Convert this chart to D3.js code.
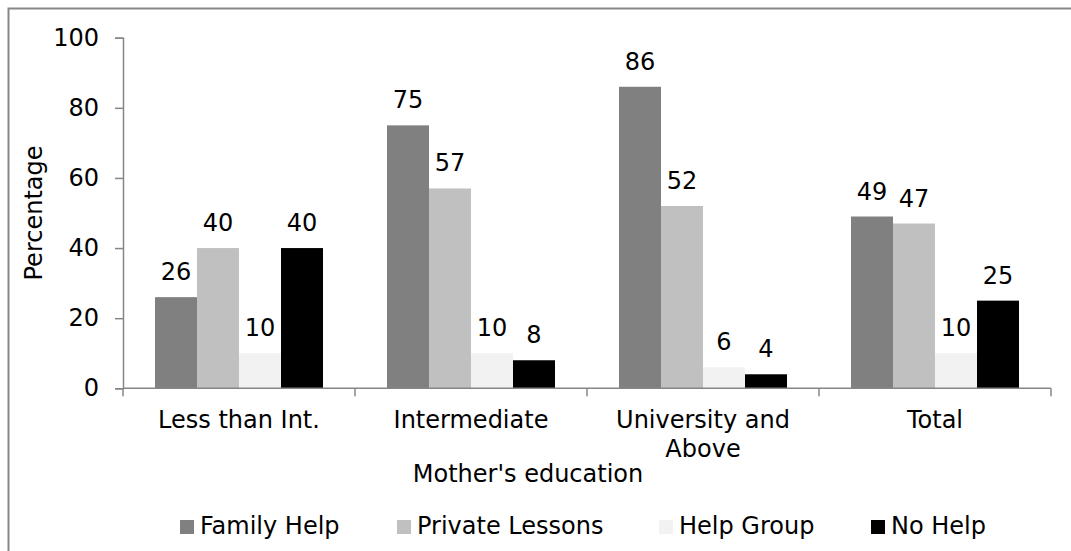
<!DOCTYPE html>
<html>
<head>
<meta charset="utf-8">
<script src="https://cdn.jsdelivr.net/npm/d3@7"></script>
<style>
  html, body { margin: 0; padding: 0; background: #fff; }
  svg { display: block; }
  text { font-family: "DejaVu Sans", Verdana, sans-serif; fill: #000; }
</style>
</head>
<body>
<svg id="chart" width="1071" height="551"></svg>
<script>
// Support type by mother's education level (percent of students)
const categories = [["Less than Int."], ["Intermediate"], ["University and", "Above"], ["Total"]];
const seriesNames = ["Family Help", "Private Lessons", "Help Group", "No Help"];
const seriesColors = ["#808080", "#C0C0C0", "#F2F2F2", "#000000"];
const familyHelp     = [26, 75, 86, 49];
const privateLessons = [40, 57, 52, 47];
const helpGroup      = [10, 10, 6, 10];
const noHelp         = [40, 8, 4, 25];
const yTicks = [0, 20, 40, 60, 80, 100];

const seriesValues = [familyHelp, privateLessons, helpGroup, noHelp];
const catKeys = categories.map(c => c.join(" "));

const svg = d3.select("#chart");
const FS = 24;

// outer chart frame
svg.append("rect")
  .attr("x", 8.5).attr("y", 8.5)
  .attr("width", 1120).attr("height", 620)
  .attr("fill", "none").attr("stroke", "#878787").attr("stroke-width", 2);

const plot = { left: 123, right: 1051, top: 37.7, bottom: 388.3 };

const x = d3.scaleBand().domain(catKeys).range([plot.left, plot.right]).paddingInner(0).paddingOuter(0);
const xs = d3.scaleBand().domain(seriesNames).range([32, x.bandwidth() - 32]).padding(0);
const y = d3.scaleLinear().domain([0, 100]).range([plot.bottom, plot.top]);

// bars
const groups = svg.append("g").selectAll("g")
  .data(catKeys)
  .join("g")
  .attr("transform", d => `translate(${x(d)},0)`);

groups.each(function(cat, ci) {
  const g = d3.select(this);
  const rows = seriesNames.map((s, si) => ({ s, si, v: seriesValues[si][ci] }));
  g.selectAll("rect")
    .data(rows)
    .join("rect")
    .attr("x", d => xs(d.s))
    .attr("y", d => y(d.v))
    .attr("width", xs.bandwidth())
    .attr("height", d => y(0) - y(d.v))
    .attr("fill", d => seriesColors[d.si]);
  g.selectAll("text.lbl")
    .data(rows)
    .join("text")
    .attr("class", "lbl")
    .attr("x", d => xs(d.s) + xs.bandwidth() / 2)
    .attr("y", d => y(d.v) - 17)
    .attr("text-anchor", "middle")
    .attr("font-size", FS)
    .text(d => d.v);
});

// y axis
const yAxis = svg.append("g")
  .attr("transform", `translate(${plot.left},0)`)
  .call(d3.axisLeft(y).tickValues(yTicks).tickSize(8).tickPadding(16));
yAxis.select(".domain").attr("stroke", "#868686").attr("stroke-width", 1.5);
yAxis.selectAll(".tick line").attr("stroke", "#868686").attr("stroke-width", 1.5);
yAxis.selectAll(".tick text").attr("font-size", FS).attr("font-family", "DejaVu Sans").attr("fill", "#000");

// x axis with ticks on category boundaries
const xAxisG = svg.append("g").attr("transform", `translate(0,${plot.bottom})`);
xAxisG.append("line")
  .attr("x1", plot.left).attr("x2", plot.right)
  .attr("stroke", "#868686").attr("stroke-width", 1.5);
const bounds = catKeys.map(k => x(k)).concat([x(catKeys[catKeys.length - 1]) + x.bandwidth()]);
xAxisG.selectAll("line.tk")
  .data(bounds)
  .join("line")
  .attr("class", "tk")
  .attr("x1", d => d).attr("x2", d => d)
  .attr("y1", 0).attr("y2", 8)
  .attr("stroke", "#868686").attr("stroke-width", 1.5);

// category labels
svg.append("g").selectAll("text")
  .data(categories)
  .join("text")
  .attr("text-anchor", "middle")
  .attr("font-size", FS)
  .attr("x", (d, i) => x(catKeys[i]) + x.bandwidth() / 2)
  .attr("y", 428)
  .each(function(lines) {
    d3.select(this).selectAll("tspan")
      .data(lines)
      .join("tspan")
      .attr("x", d3.select(this).attr("x"))
      .attr("dy", (d, i) => i === 0 ? 0 : 28.5)
      .text(d => d);
  });

// axis titles
svg.append("text")
  .attr("x", 528)
  .attr("y", 481.5)
  .attr("text-anchor", "middle")
  .attr("font-size", FS)
  .text("Mother's education");

svg.append("text")
  .attr("transform", `translate(42,${(plot.top + plot.bottom) / 2}) rotate(-90)`)
  .attr("text-anchor", "middle")
  .attr("font-size", FS)
  .text("Percentage");

// legend
const legendX = [180, 397, 659, 871];
const legend = svg.append("g").selectAll("g")
  .data(seriesNames)
  .join("g")
  .attr("transform", (d, i) => `translate(${legendX[i]},520)`);
legend.append("rect")
  .attr("width", 14).attr("height", 14)
  .attr("fill", (d, i) => seriesColors[i]);
legend.append("text")
  .attr("x", 20).attr("y", 14.3)
  .attr("font-size", FS)
  .text(d => d);
</script>
</body>
</html>
